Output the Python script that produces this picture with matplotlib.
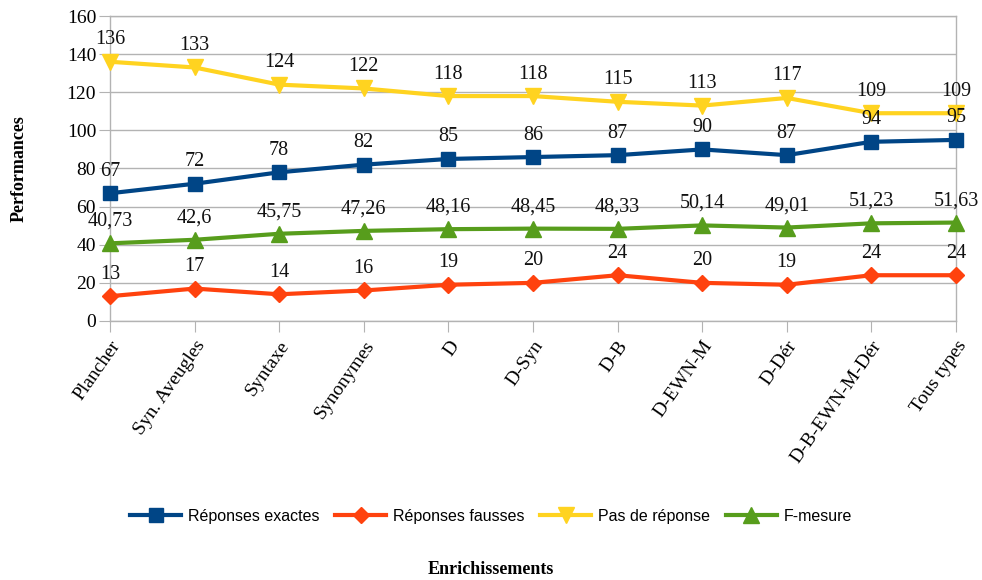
import matplotlib
matplotlib.use("Agg")
import matplotlib.pyplot as plt

categories = ["Plancher", "Syn. Aveugles", "Syntaxe", "Synonymes", "D", "D-Syn",
              "D-B", "D-EWN-M", "D-Dér", "D-B-EWN-M-Dér", "Tous types"]
exactes = [67, 72, 78, 82, 85, 86, 87, 90, 87, 94, 95]
fausses = [13, 17, 14, 16, 19, 20, 24, 20, 19, 24, 24]
pas_de_reponse = [136, 133, 124, 122, 118, 118, 115, 113, 117, 109, 109]
f_mesure = [40.73, 42.6, 45.75, 47.26, 48.16, 48.45, 48.33, 50.14, 49.01, 51.23, 51.63]
y_ticks = [0, 20, 40, 60, 80, 100, 120, 140, 160]

serif = ["Liberation Serif", "DejaVu Serif"]
sans = ["Liberation Sans Narrow", "Liberation Sans", "DejaVu Sans"]

fig = plt.figure(figsize=(9.82, 5.8), dpi=100)
ax = fig.add_axes([0.112, 0.4466, 0.8615, 0.5258])

series = [
    ("Réponses exactes", exactes, "#004586", "s", 10),
    ("Réponses fausses", fausses, "#ff420e", "D", 8),
    ("Pas de réponse", pas_de_reponse, "#ffd320", "v", 11),
    ("F-mesure", f_mesure, "#579d1c", "^", 11),
]

x = list(range(len(categories)))
for name, vals, color, marker, ms in series:
    ax.plot(x, vals, color=color, lw=3, marker=marker, ms=ms, label=name, zorder=3,
            clip_on=False)
    for xi, v in zip(x, vals):
        txt = f"{v:g}".replace(".", ",")
        ax.annotate(txt, (xi, v), xytext=(0, 9), textcoords="offset points",
                    ha="center", va="bottom", fontsize=14.5, family=serif,
                    color="#111111", zorder=4, annotation_clip=False)

ax.set_xlim(0, len(categories) - 1)
ax.set_ylim(0, 160)
ax.set_yticks(y_ticks)
ax.set_yticklabels([str(t) for t in y_ticks], family=serif, fontsize=14)
ax.set_xticks(x)
ax.set_xticklabels(categories, family=serif, fontsize=14, rotation=55,
                   ha="right", rotation_mode="anchor")
ax.grid(axis="y", color="#b3b3b3", lw=1)
ax.set_axisbelow(True)
for side in ["top", "right", "left", "bottom"]:
    ax.spines[side].set_color("#b3b3b3")
    ax.spines[side].set_linewidth(1)
ax.tick_params(axis="y", length=8, color="#b3b3b3", pad=2)
ax.tick_params(axis="x", length=8, color="#b3b3b3", pad=4)

ax.set_ylabel("Performances", family=serif, fontsize=13, fontweight="bold", labelpad=28)
fig.text(0.5, 0.003, "Enrichissements", family=serif, fontsize=13, fontweight="bold",
         ha="center", va="bottom")

fig.legend(loc="center", bbox_to_anchor=(0.5, 0.11), ncol=4, frameon=False,
           prop={"family": sans, "size": 11.5}, handlelength=3.2, columnspacing=1.0,
           handletextpad=0.4)

fig.savefig("out.png", dpi=100)
